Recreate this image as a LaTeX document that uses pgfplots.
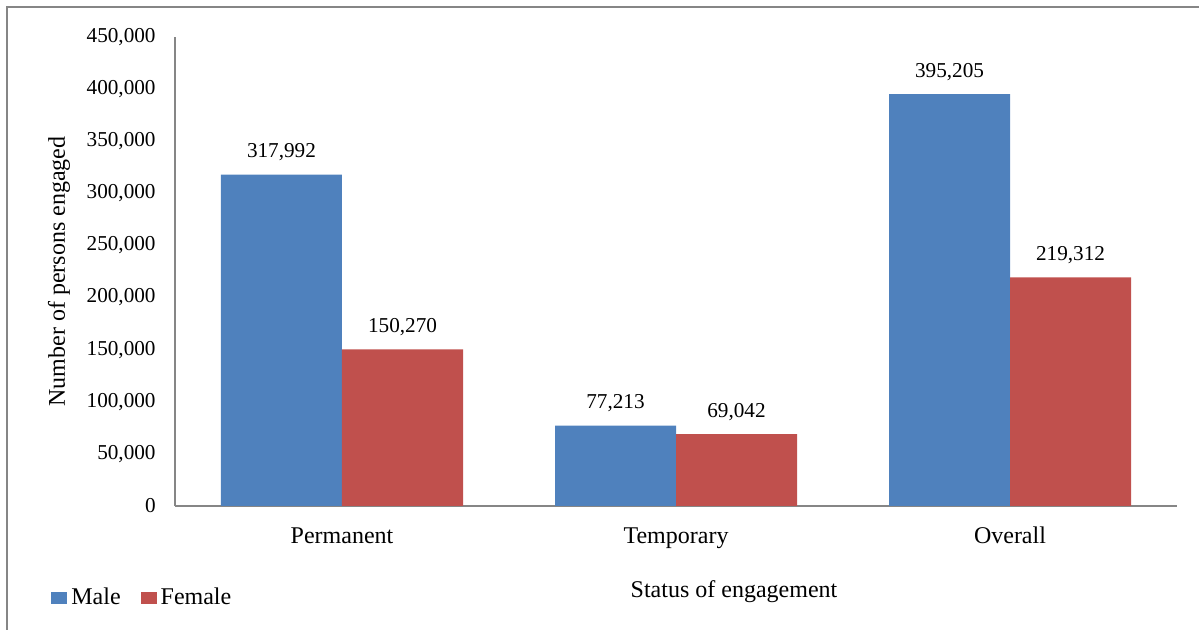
\documentclass[border=0pt]{standalone}
\usepackage{pgfplots}
\pgfplotsset{compat=1.18}
\usepackage{fontspec}
\setmainfont{Liberation Serif}

\definecolor{malebar}{HTML}{4F81BD}
\definecolor{femalebar}{HTML}{C0504D}
\definecolor{axisgray}{HTML}{868686}

\newcommand{\numfont}{\fontsize{10.6bp}{12bp}\selectfont}
\newcommand{\txtfont}{\fontsize{12bp}{14bp}\selectfont}

\begin{document}
\begin{tikzpicture}
  \useasboundingbox (-87.5bp,-62bp) rectangle (512bp,253bp);
  % outer frame (right and bottom sides fall outside the picture)
  \draw[axisgray, line width=1bp] (-84bp,-80bp) -- (-84bp,249.5bp) -- (530bp,249.5bp);

  \begin{axis}[
    scale only axis,
    width=501bp,
    height=234.5bp,
    ybar=0pt,
    bar width=60.5bp,
    xmin=-0.5, xmax=2.5,
    ymin=0, ymax=450000,
    ytick={0,50000,...,450000},
    xtick={0,1,2},
    xticklabels={Permanent,Temporary,Overall},
    major tick length=0pt,
    axis x line=bottom,
    axis y line=left,
    axis line style={axisgray, line width=1bp, -},
    scaled y ticks=false,
    /pgf/number format/.cd, fixed, 1000 sep={,}, assume math mode=true,
    /pgfplots/.cd,
    yticklabel style={font=\numfont, inner sep=0pt, anchor=east, xshift=-9.5bp},
    xticklabel style={font=\txtfont, inner sep=0pt, anchor=base, yshift=-18.5bp},
    ylabel={Number of persons engaged},
    ylabel style={font=\txtfont, at={(axis description cs:0,0.5)}, anchor=center, yshift=58bp},
    xlabel={Status of engagement},
    xlabel style={font=\txtfont, at={(axis description cs:0,0)}, anchor=base, inner sep=0pt, xshift=279.5bp, yshift=-45.5bp},
    nodes near coords={\pgfmathprintnumber[fixed,precision=0,1000 sep={,}]{\pgfplotspointmeta}},
    nodes near coords style={font=\numfont, anchor=base, inner sep=0pt, yshift=8.5bp, black},
    legend columns=2,
    legend style={draw=none, fill=none, font=\txtfont, inner sep=0pt,
      at={(axis description cs:0,0)}, anchor=west, xshift=-62bp, yshift=-46bp,
      /tikz/every even column/.append style={column sep=8bp}},
    legend image code/.code={\fill[#1] (0bp,-3bp) rectangle (8bp,3bp);},
    legend cell align=left,
  ]
    \addplot[fill=malebar, draw=none] coordinates {(0,317992) (1,77213) (2,395205)};
    \addplot[fill=femalebar, draw=none] coordinates {(0,150270) (1,69042) (2,219312)};
    \legend{Male,Female}
  \end{axis}
\end{tikzpicture}
\end{document}
